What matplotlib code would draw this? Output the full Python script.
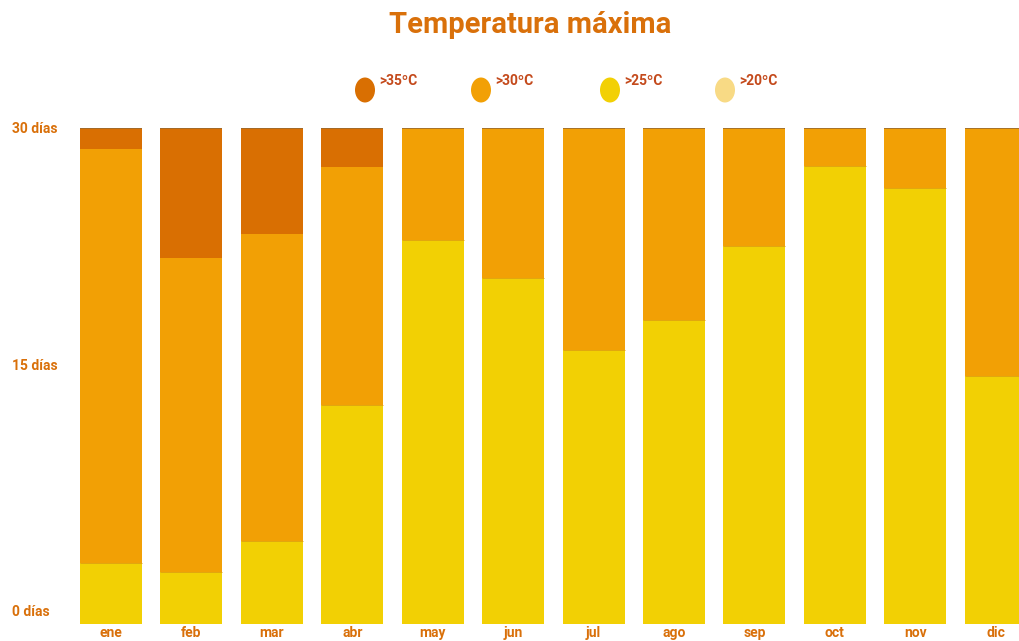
import matplotlib.pyplot as plt
from matplotlib.patches import Ellipse
import numpy as np

# dias por mes en cada rango de temperatura maxima
meses = ["ene", "feb", "mar", "abr", "may", "jun", "jul", "ago", "sep", "oct", "nov", "dic"]
dias_20 = [0, 0, 0, 0, 0, 0, 0, 0, 0, 0, 0, 0]
dias_25 = [3.7, 3.15, 5.0, 13.25, 23.2, 20.9, 16.6, 18.4, 22.85, 27.7, 26.4, 15.0]
dias_30 = [25.0, 19.0, 18.6, 14.4, 6.8, 9.1, 13.4, 11.6, 7.15, 2.3, 3.6, 15.0]
dias_35 = [1.3, 7.85, 6.4, 2.35, 0, 0, 0, 0, 0, 0, 0, 0]
etiquetas_y = ["0 días", "15 días", "30 días"]
valores_y = [0, 15, 30]
leyenda = [">35ºC", ">30ºC", ">25ºC", ">20ºC"]

c35 = "#d96f02"
c30 = "#f2a005"
c25 = "#f2d004"
c20 = "#f8da85"
naranja = "#d9700a"
rojizo = "#c44a1c"

plt.rcParams['font.family'] = ['Roboto', 'DejaVu Sans']

fig = plt.figure(figsize=(10.19, 6.41), dpi=100)
ax = fig.add_axes([0, 17 / 641, 1, 496 / 641])

x = np.arange(len(meses))
w = 0.77
b = np.zeros(len(meses))
for vals, col in [(dias_20, c20), (dias_25, c25), (dias_30, c30), (dias_35, c35)]:
    vals = np.array(vals)
    ax.bar(x, vals, w, bottom=b, color=col, edgecolor="none")
    b = b + vals
# linea fina en el borde superior de cada barra
ax.hlines(b, x - w / 2, x + w / 2, color="#9a6a30", lw=1.2)
# linea en el cambio de color amarillo/naranja
top25 = np.array(dias_20) + np.array(dias_25)
ax.hlines(top25, x - w / 2, x + w / 2, color="#e0a010", lw=0.6)

ax.set_xlim(-1.38, 11.29)
ax.set_ylim(0, 30)
ax.axis("off")

for i, m in enumerate(meses):
    ax.text(i, -0.52, m, ha="center", va="center", color=naranja,
            fontsize=10, fontweight="bold", clip_on=False)

ypix = [612, 366, 129]
for lab, yp in zip(etiquetas_y, ypix):
    fig.text(12 / 1019, 1 - yp / 641, lab, ha="left", va="center",
             color=naranja, fontsize=10, fontweight="bold")

fig.text(530 / 1019, 1 - 25 / 641, "Temperatura máxima", ha="center", va="center",
         color=naranja, fontsize=21, fontweight="bold")

lx = [365, 481, 610, 725]
for lab, px, col in zip(leyenda, lx, [c35, c30, c25, c20]):
    e = Ellipse((px / 1019, 1 - 90 / 641), 20 / 1019, 25 / 641,
                transform=fig.transFigure, color=col, ec="none")
    fig.add_artist(e)
    fig.text((px + 14) / 1019, 1 - 81 / 641, lab, ha="left", va="center",
             color=rojizo, fontsize=10, fontweight="bold")

fig.savefig("out.png", dpi=100)
